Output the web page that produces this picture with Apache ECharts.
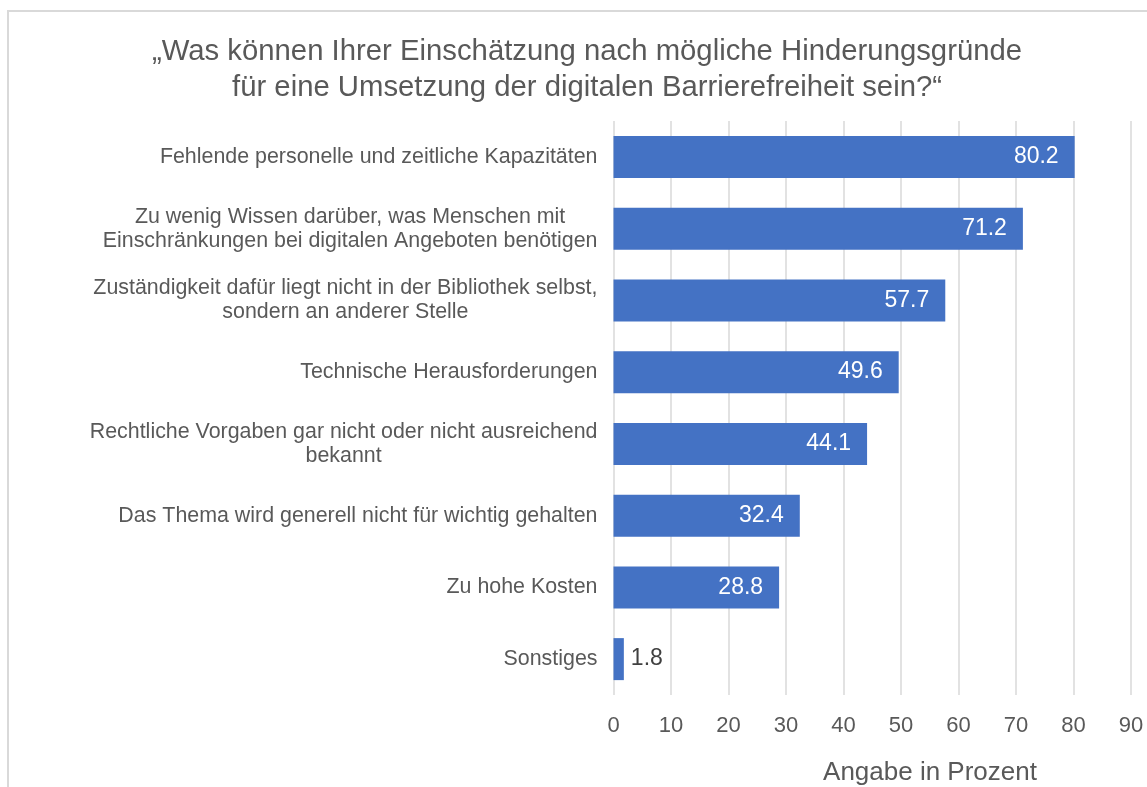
<!DOCTYPE html>
<html>
<head>
<meta charset="utf-8">
<title>Hinderungsgründe digitale Barrierefreiheit</title>
<script src="https://cdn.jsdelivr.net/npm/echarts@6/dist/echarts.min.js"></script>
<style>
  html, body { margin: 0; padding: 0; background: #fff; }
  #chart { width: 1147px; height: 787px; }
</style>
</head>
<body>
<div id="chart"></div>
<script>
// Kategorien von oben nach unten
const categories = [
  "Fehlende personelle und zeitliche Kapazitäten",
  "Zu wenig Wissen darüber, was Menschen mit\nEinschränkungen bei digitalen Angeboten benötigen",
  "Zuständigkeit dafür liegt nicht in der Bibliothek selbst,\nsondern an anderer Stelle",
  "Technische Herausforderungen",
  "Rechtliche Vorgaben gar nicht oder nicht ausreichend\nbekannt",
  "Das Thema wird generell nicht für wichtig gehalten",
  "Zu hohe Kosten",
  "Sonstiges"
];
const values = [80.2, 71.2, 57.7, 49.6, 44.1, 32.4, 28.8, 1.8];
const xTicks = { min: 0, max: 90, interval: 10 };

const textColor = "#595959";
const barColor = "#4472C4";

const chart = echarts.init(document.getElementById("chart"));

chart.setOption({
  animation: false,
  textStyle: { fontFamily: "Liberation Sans, Arial, sans-serif" },
  graphic: [
    {
      // Rahmen des Diagrammbereichs
      type: "rect",
      silent: true,
      shape: { x: 8, y: 11, width: 1300, height: 900 },
      style: { fill: "none", stroke: "#d9d9d9", lineWidth: 2 }
    }
  ],
  title: [
    {
      text: "„Was können Ihrer Einschätzung nach mögliche Hinderungsgründe\nfür eine Umsetzung der digitalen Barrierefreiheit sein?“",
      left: 582,
      top: 29,
      textAlign: "center",
      textStyle: {
        color: textColor,
        fontSize: 29.3,
        fontWeight: "normal",
        lineHeight: 36
      }
    },
    {
      text: "Angabe in Prozent",
      left: 925,
      top: 755,
      textAlign: "center",
      textStyle: { color: textColor, fontSize: 26, fontWeight: "normal" }
    }
  ],
  grid: {
    left: 613.5,
    right: 16,
    top: 121,
    height: 574,
    containLabel: false
  },
  xAxis: {
    type: "value",
    min: xTicks.min,
    max: xTicks.max,
    interval: xTicks.interval,
    axisLine: { show: false },
    axisTick: { show: false },
    axisLabel: { color: textColor, fontSize: 22, margin: 20 },
    splitLine: { lineStyle: { color: "#d9d9d9", width: 1.5 } }
  },
  yAxis: {
    type: "category",
    inverse: true,
    data: categories,
    axisLine: { show: false },
    axisTick: { show: false },
    axisLabel: {
      margin: 16,
      formatter: function (v) {
        return "{c|" + v + "}";
      },
      rich: {
        c: { color: textColor, fontSize: 21.4, lineHeight: 24, align: "center" }
      }
    }
  },
  series: [
    {
      type: "bar",
      data: values.map(function (v) {
        if (v < 5) {
          return {
            value: v,
            label: { position: "right", distance: 7, color: "#404040" }
          };
        }
        return v;
      }),
      barWidth: 42,
      itemStyle: { color: barColor },
      label: {
        show: true,
        position: "insideRight",
        distance: 16,
        color: "#ffffff",
        fontSize: 23
      }
    }
  ]
});
</script>
</body>
</html>
